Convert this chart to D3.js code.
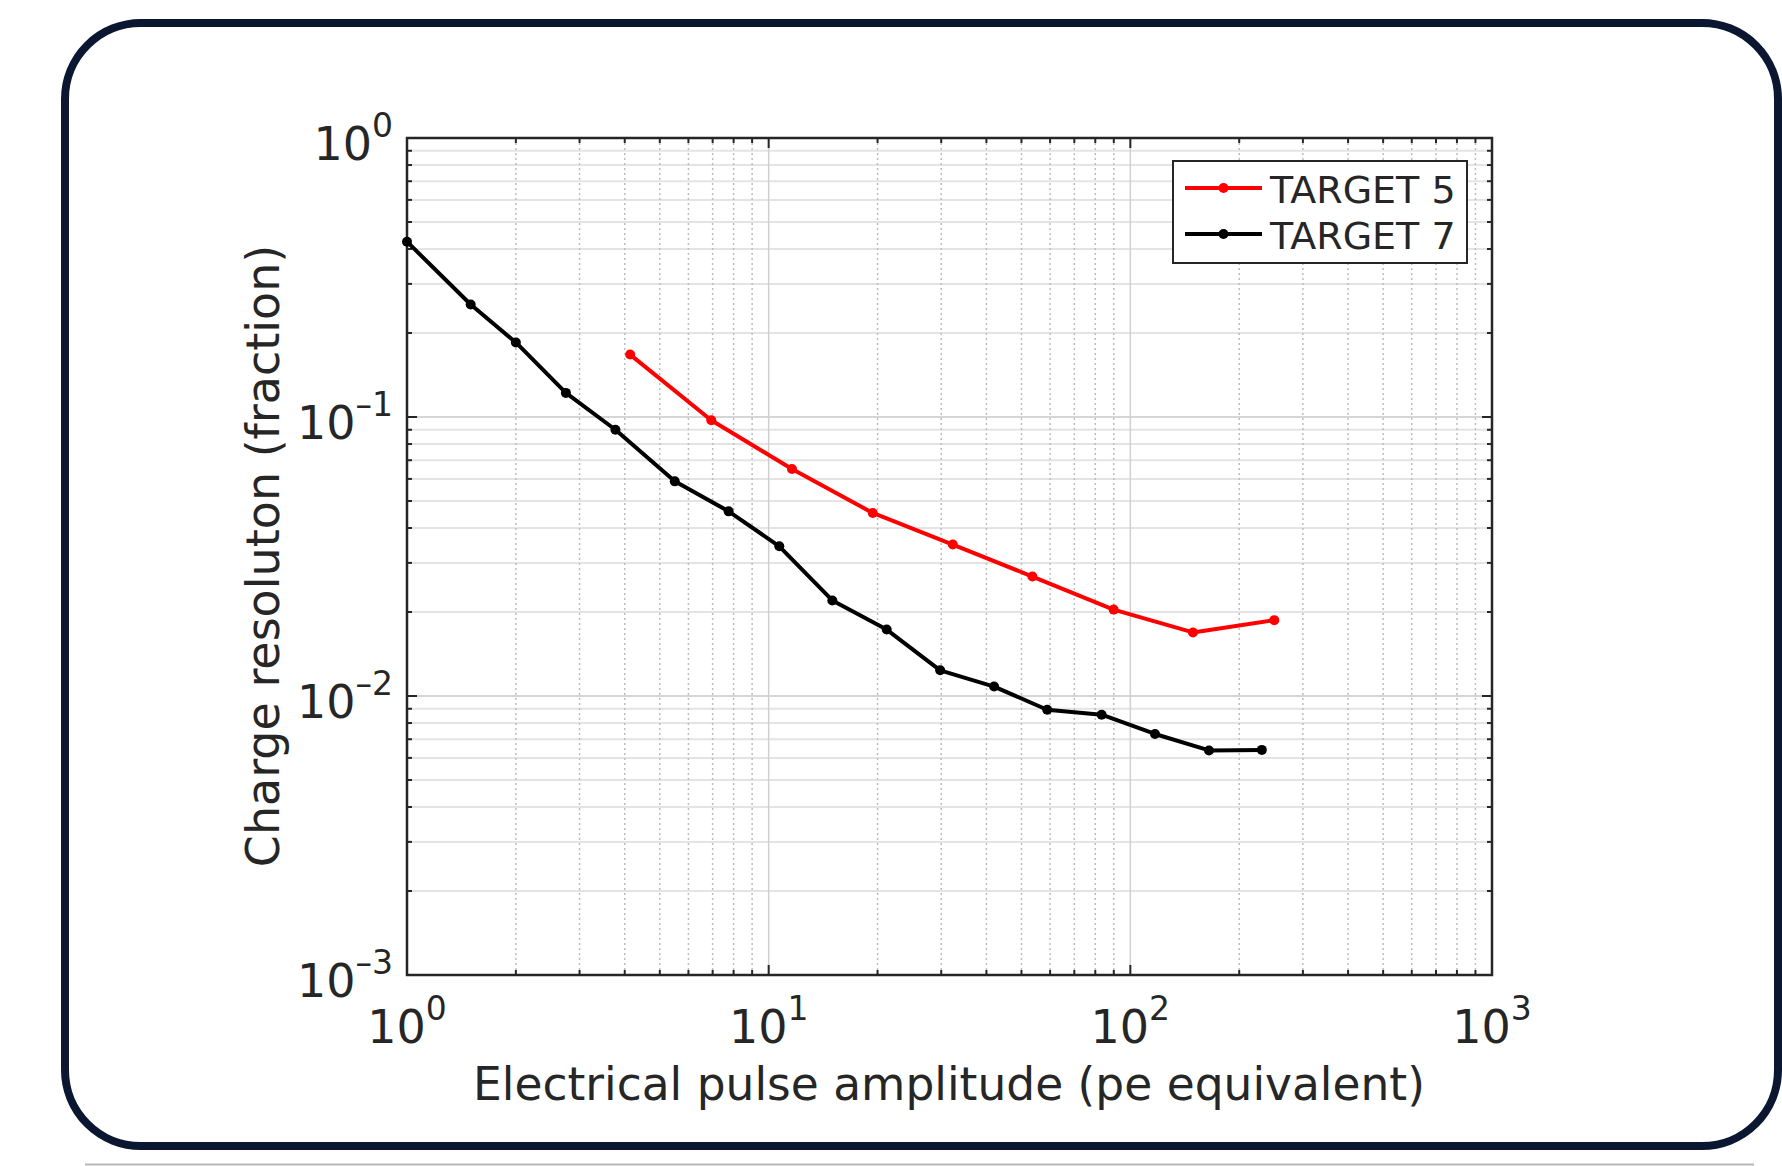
<!DOCTYPE html>
<html>
<head>
<meta charset="utf-8">
<script src="https://d3js.org/d3.v7.min.js"></script>
<style>
body { margin: 0; background: #fff; }
svg { display: block; }
text { font-family: "DejaVu Sans", sans-serif; fill: #262626; }
</style>
</head>
<body>
<div class="chart"></div>
<script>
var width = 1782,
    height = 1166;

// TARGET 7 (black)
var t7_x = [1, 1.5, 2, 2.75, 3.77, 5.5, 7.75, 10.7, 15, 21.2, 29.8, 42, 58.9, 83.3, 117, 165, 231];
var t7_y = [0.425, 0.253, 0.185, 0.122, 0.090, 0.0588, 0.0459, 0.0344, 0.0220, 0.0173, 0.01236, 0.01081, 0.00893, 0.00857, 0.00731, 0.00638, 0.00641];
// TARGET 5 (red)
var t5_x = [4.14, 6.94, 11.6, 19.4, 32.3, 53.6, 89.9, 149, 250];
var t5_y = [0.1674, 0.0973, 0.0651, 0.0453, 0.0349, 0.0268, 0.0204, 0.0169, 0.0187];

var series_names = ['TARGET 5', 'TARGET 7'];
var series_colors = ['#ff0000', '#000000'];
var x_exps = [0, 1, 2, 3];
var y_exps = [0, -1, -2, -3];

var plot_l = 407, plot_r = 1492, plot_t = 138, plot_b = 975;

var svg = d3.select(".chart").append("svg")
    .attr("width", width)
    .attr("height", height);

// outer rounded frame
svg.append("rect")
    .attr("x", 65).attr("y", 23)
    .attr("width", 1713).attr("height", 1123)
    .attr("rx", 76).attr("ry", 76)
    .attr("fill", "#fff")
    .attr("stroke", "#0b1631")
    .attr("stroke-width", 8);
svg.append("line")
    .attr("x1", 85).attr("x2", 1754)
    .attr("y1", 1164.5).attr("y2", 1164.5)
    .attr("stroke", "#b8b8b8").attr("stroke-width", 2);

var x = d3.scaleLog().domain([1, 1000]).range([plot_l, plot_r]);
var y = d3.scaleLog().domain([0.001, 1]).range([plot_b, plot_t]);

function isMajor(v) {
    var l = Math.log10(v);
    return Math.abs(l - Math.round(l)) < 1e-9;
}

var xt = x.ticks(), yt = y.ticks();
var g = svg.append("g");

// grid
g.selectAll(".hgrid").data(yt).enter().append("line")
    .attr("x1", plot_l).attr("x2", plot_r)
    .attr("y1", function (d) { return y(d); })
    .attr("y2", function (d) { return y(d); })
    .attr("stroke", function (d) { return isMajor(d) ? "#d6d6d6" : "#e4e4e4"; })
    .attr("stroke-width", 2);
g.selectAll(".vgrid").data(xt).enter().append("line")
    .attr("y1", plot_t).attr("y2", plot_b)
    .attr("x1", function (d) { return x(d); })
    .attr("x2", function (d) { return x(d); })
    .attr("stroke", function (d) { return isMajor(d) ? "#cfcfcf" : "#bdbdbd"; })
    .attr("stroke-width", 1.5)
    .attr("stroke-dasharray", function (d) { return isMajor(d) ? null : "2,3"; });

// ticks on all four sides, pointing in
function tlen(d) { return isMajor(d) ? 10 : 5; }
g.selectAll(".xtb").data(xt).enter().append("line")
    .attr("x1", function (d) { return x(d); }).attr("x2", function (d) { return x(d); })
    .attr("y1", plot_b).attr("y2", function (d) { return plot_b - tlen(d); })
    .attr("stroke", "#262626").attr("stroke-width", 2);
g.selectAll(".xtt").data(xt).enter().append("line")
    .attr("x1", function (d) { return x(d); }).attr("x2", function (d) { return x(d); })
    .attr("y1", plot_t).attr("y2", function (d) { return plot_t + tlen(d); })
    .attr("stroke", "#262626").attr("stroke-width", 2);
g.selectAll(".ytl").data(yt).enter().append("line")
    .attr("y1", function (d) { return y(d); }).attr("y2", function (d) { return y(d); })
    .attr("x1", plot_l).attr("x2", function (d) { return plot_l + tlen(d); })
    .attr("stroke", "#262626").attr("stroke-width", 2);
g.selectAll(".ytr").data(yt).enter().append("line")
    .attr("y1", function (d) { return y(d); }).attr("y2", function (d) { return y(d); })
    .attr("x1", plot_r).attr("x2", function (d) { return plot_r - tlen(d); })
    .attr("stroke", "#262626").attr("stroke-width", 2);

g.append("rect")
    .attr("x", plot_l).attr("y", plot_t)
    .attr("width", plot_r - plot_l).attr("height", plot_b - plot_t)
    .attr("fill", "none")
    .attr("stroke", "#262626").attr("stroke-width", 2.5);

// tick labels
function sup(e) { return e < 0 ? "\u2013" + (-e) : "" + e; }

var xl = g.selectAll(".xlab").data(x_exps).enter().append("text")
    .attr("x", function (d) { return x(Math.pow(10, d)); })
    .attr("y", 1043)
    .style("text-anchor", "middle")
    .style("font-size", "46px");
xl.append("tspan").text("10");
xl.append("tspan").attr("dy", -23).style("font-size", "33px").text(function (d) { return sup(d); });

var yl = g.selectAll(".ylab").data(y_exps).enter().append("text")
    .attr("x", 393)
    .attr("y", function (d) { return y(Math.pow(10, d)) + 22; })
    .style("text-anchor", "end")
    .style("font-size", "46px");
yl.append("tspan").text("10");
yl.append("tspan").attr("dy", -23).style("font-size", "33px").text(function (d) { return sup(d); });

// axis titles
svg.append("text")
    .attr("x", 949).attr("y", 1100)
    .style("text-anchor", "middle")
    .style("font-size", "45.5px")
    .text("Electrical pulse amplitude (pe equivalent)");
svg.append("text")
    .attr("transform", "translate(279,556) rotate(-90)")
    .style("text-anchor", "middle")
    .style("font-size", "46px")
    .text("Charge resoluton (fraction)");

// lines
var line = d3.line()
    .x(function (d) { return x(d[0]); })
    .y(function (d) { return y(d[1]); });

var sets = [d3.zip(t5_x, t5_y), d3.zip(t7_x, t7_y)];
sets.forEach(function (pts, i) {
    g.append("path")
        .attr("d", line(pts))
        .attr("fill", "none")
        .attr("stroke", series_colors[i])
        .attr("stroke-width", 4)
        .attr("stroke-linejoin", "round");
    g.selectAll(".pt" + i).data(pts).enter().append("circle")
        .attr("cx", function (d) { return x(d[0]); })
        .attr("cy", function (d) { return y(d[1]); })
        .attr("r", 5)
        .attr("fill", series_colors[i]);
});

// legend
var lg = svg.append("g");
lg.append("rect")
    .attr("x", 1173).attr("y", 161)
    .attr("width", 294).attr("height", 102)
    .attr("fill", "#fff")
    .attr("stroke", "#262626").attr("stroke-width", 2);
var rows = lg.selectAll(".row").data(series_names).enter().append("g")
    .attr("transform", function (d, i) { return "translate(0," + (188 + i * 46) + ")"; });
rows.append("line")
    .attr("x1", 1185).attr("x2", 1262)
    .attr("stroke", function (d, i) { return series_colors[i]; })
    .attr("stroke-width", 4);
rows.append("circle")
    .attr("cx", 1223.5).attr("r", 5)
    .attr("fill", function (d, i) { return series_colors[i]; });
rows.append("text")
    .attr("x", 1270).attr("y", 15)
    .style("font-size", "38px")
    .text(function (d) { return d; });
</script>
</body>
</html>
